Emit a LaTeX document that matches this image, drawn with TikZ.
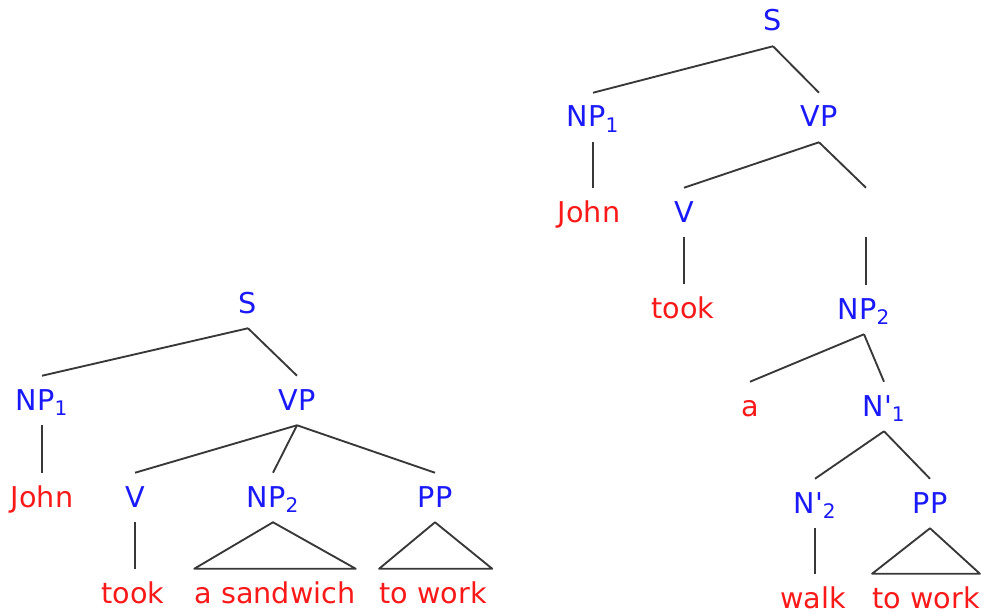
\documentclass[tikz,border=0pt]{standalone}
\usepackage{fontspec}
\setmainfont{DejaVu Sans}
\definecolor{catblue}{RGB}{25,25,250}
\definecolor{wordred}{RGB}{250,25,25}
\begin{document}
\begin{tikzpicture}[x=0.75pt,y=-0.75pt,
  lab/.style={anchor=base, inner sep=0pt, text height=25.5pt, text depth=11.25pt,
    font=\fontsize{21.5}{25}\selectfont},
  cat/.style={lab, text=catblue},
  word/.style={lab, text=wordred},
  branch/.style={draw=black!78, line width=1.4pt, line join=round}]
\useasboundingbox (0,0) rectangle (981,613);

% ---- flat structure: "took a sandwich to work" ----
\node[cat]  (lS)    at (248,313) {S};
\node[cat]  (lNP1)  at (42,410)  {NP\textsubscript{1}};
\node[cat]  (lVP)   at (297,410) {VP};
\node[word] (lJohn) at (42,507)  {John};
\node[cat]  (lV)    at (135,507) {V};
\node[cat]  (lNP2)  at (273,507) {NP\textsubscript{2}};
\node[cat]  (lPP)   at (435,507) {PP};
\node[word] (lTook) at (133,603) {took};
\node[word] (lSand) at (275,603) {a sandwich};
\node[word] (lWork) at (433,603) {to work};

\draw[branch] (lS.south) -- (lNP1.north);
\draw[branch] (lS.south) -- (lVP.north);
\draw[branch] (lNP1.south) -- (lNP1.south |- lJohn.north);
\draw[branch] (lVP.south) -- (lV.north);
\draw[branch] (lVP.south) -- (lNP2.north);
\draw[branch] (lVP.south) -- (lPP.north);
\draw[branch] (lV.south) -- (lV.south |- lTook.north);
\draw[branch] (lNP2.south) -- (lSand.north east) -- (lSand.north west) -- cycle;
\draw[branch] (lPP.south) -- ([xshift=4pt]lWork.north east) -- (lWork.north west) -- cycle;

% ---- nested structure: "took a walk to work" ----
\node[cat]  (rS)    at (773,31)  {S};
\node[cat]  (rNP1)  at (593,127) {NP\textsubscript{1}};
\node[cat]  (rVP)   at (819,127) {VP};
\node[word] (rJohn) at (589,222) {John};
\node[cat]  (rV)    at (684,222) {V};
\node[lab]  (rGap)  at (866,222) {};
\node[word] (rTook) at (683,318) {took};
\node[cat]  (rNP2)  at (864,319) {NP\textsubscript{2}};
\node[word] (rA)    at (750,416) {a};
\node[cat]  (rN1)   at (884,416) {N\textquotesingle\textsubscript{1}};
\node[cat]  (rN2)   at (815,513) {N\textquotesingle\textsubscript{2}};
\node[cat]  (rPP)   at (930,513) {PP};
\node[word] (rWalk) at (813,608) {walk};
\node[word] (rWork) at (926,608) {to work};

\draw[branch] (rS.south) -- (rNP1.north);
\draw[branch] (rS.south) -- (rVP.north);
\draw[branch] (rNP1.south) -- (rNP1.south |- rJohn.north);
\draw[branch] (rVP.south) -- (rV.north);
\draw[branch] (rVP.south) -- (rGap.north);
\draw[branch] (rV.south) -- (rV.south |- rTook.north);
\draw[branch] (rGap.south) -- (rGap.south |- rNP2.north);
\draw[branch] (rNP2.south) -- (rA.north);
\draw[branch] (rNP2.south) -- (rN1.north);
\draw[branch] (rN1.south) -- (rN2.north);
\draw[branch] (rN1.south) -- (rPP.north);
\draw[branch] (rN2.south) -- (rN2.south |- rWalk.north);
\draw[branch] (rPP.south) -- (rWork.north east) -- (rWork.north west) -- cycle;
\end{tikzpicture}
\end{document}
